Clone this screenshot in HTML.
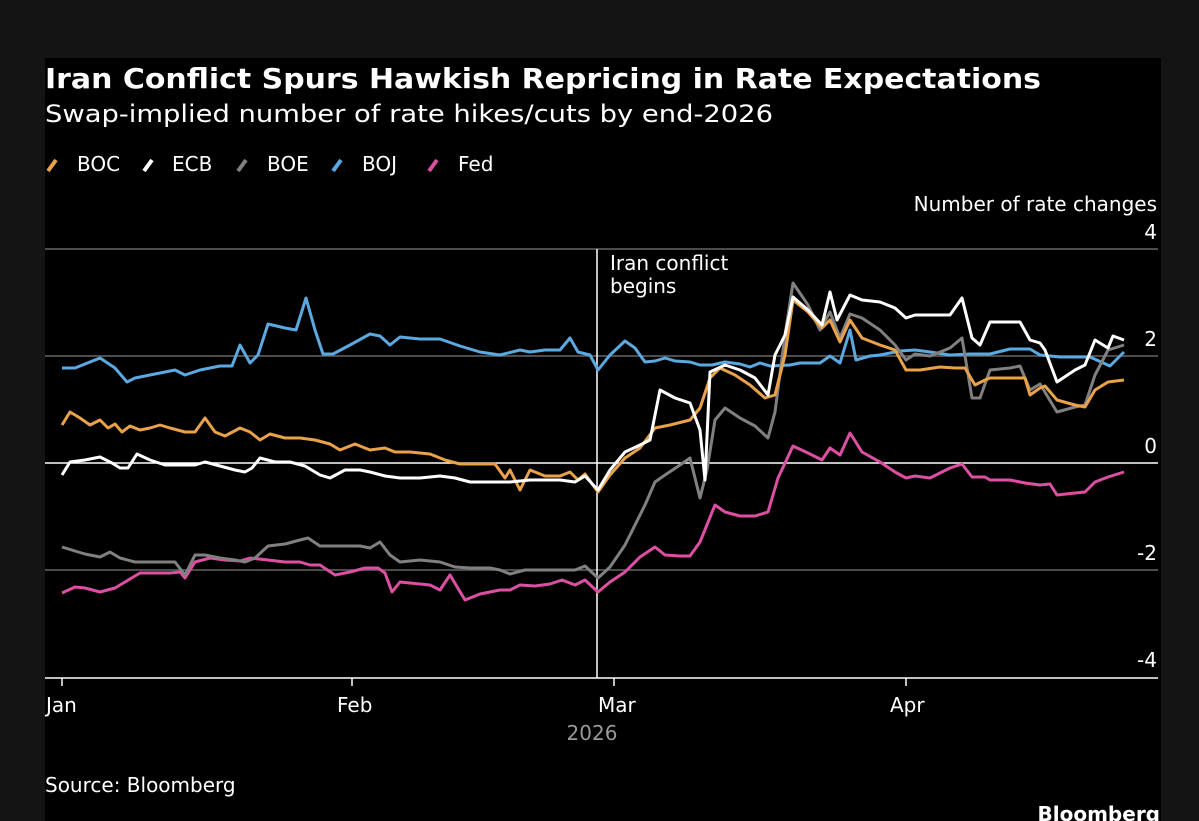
<!DOCTYPE html>
<html><head><meta charset="utf-8"><style>
html,body{margin:0;padding:0;background:#141414;}
svg{display:block;font-family:"DejaVu Sans","Liberation Sans",sans-serif;}
</style></head><body>
<svg width="1199" height="821" viewBox="0 0 1199 821" xmlns="http://www.w3.org/2000/svg">
<rect x="0" y="0" width="1199" height="821" fill="#141414"/>
<rect x="45" y="58" width="1116" height="763" fill="#000"/>
<text x="45" y="88" fill="#fff" font-size="28" font-weight="bold" textLength="996" lengthAdjust="spacingAndGlyphs">Iran Conflict Spurs Hawkish Repricing in Rate Expectations</text>
<text x="45" y="122" fill="#fff" font-size="24" textLength="728" lengthAdjust="spacingAndGlyphs">Swap-implied number of rate hikes/cuts by end-2026</text>
<g stroke-width="4" stroke-linecap="butt">
<line x1="48" y1="171" x2="56" y2="160" stroke="#e9a14a"/>
<line x1="144" y1="171" x2="152" y2="160" stroke="#fff"/>
<line x1="238" y1="171" x2="246" y2="160" stroke="#808080"/>
<line x1="333" y1="171" x2="341" y2="160" stroke="#5aa9e0"/>
<line x1="429" y1="171" x2="437" y2="160" stroke="#dc4fa2"/>
</g>
<g fill="#fff" font-size="20">
<text x="77" y="171">BOC</text><text x="172" y="171">ECB</text><text x="267" y="171">BOE</text><text x="362" y="171">BOJ</text><text x="458" y="171">Fed</text>
<text x="1157" y="211" text-anchor="end">Number of rate changes</text>
<text x="1157" y="239" text-anchor="end">4</text>
<text x="1157" y="346" text-anchor="end">2</text>
<text x="1157" y="453" text-anchor="end">0</text>
<text x="1157" y="560" text-anchor="end">-2</text>
<text x="1157" y="667" text-anchor="end">-4</text>
<text x="46" y="712">Jan</text><text x="337" y="712">Feb</text><text x="598" y="712">Mar</text><text x="890" y="712">Apr</text>
<text x="45" y="792">Source: Bloomberg</text>
<text x="610" y="270">Iran conflict</text><text x="610" y="293">begins</text>
</g>
<text x="592" y="740" fill="#999" font-size="20" text-anchor="middle">2026</text>
<text x="1160" y="821" fill="#fff" font-size="20" font-weight="bold" text-anchor="end">Bloomberg</text>
<g stroke="#666" stroke-width="1.5">
<line x1="45" y1="249" x2="1158" y2="249"/>
<line x1="45" y1="356" x2="1158" y2="356"/>
<line x1="45" y1="570" x2="1158" y2="570"/>
</g>
<line x1="45" y1="463" x2="1158" y2="463" stroke="#fff" stroke-width="1.5"/>
<line x1="45" y1="678" x2="1158" y2="678" stroke="#fff" stroke-width="1.5"/>
<g stroke="#fff" stroke-width="1.5"><line x1="62" y1="678" x2="62" y2="686"/><line x1="352" y1="678" x2="352" y2="686"/><line x1="614" y1="678" x2="614" y2="686"/><line x1="906" y1="678" x2="906" y2="686"/></g>
<line x1="597" y1="249" x2="597" y2="678" stroke="#fff" stroke-width="1.5"/>
<g fill="none" stroke-width="3" stroke-linejoin="round">
<polyline stroke="#5aa9e0" points="62,368 75,368 100,358 115,368 127,382 135,378 160,373 175,370 185,375 200,370 220,366 232,366 240,345 250,363 258,355 268,324 285,328 296,330 306,298 315,330 323,354 333,354 350,345 370,334 380,336 390,345 400,337 420,339 440,339 460,346 480,352 500,355 520,350 530,352 545,350 560,350 570,338 578,352 590,355 598,370 610,355 625,341 635,348 645,362 655,361 665,358 675,361 690,362 700,365 712,365 725,362 740,364 750,367 760,363 770,366 790,365 800,363 820,363 830,356 840,363 850,330 856,360 870,356 880,355 900,351 915,350 930,352 950,355 970,354 990,354 1010,349 1030,349 1040,355 1060,357 1090,357 1110,366 1124,352"/>
<polyline stroke="#dc4fa2" points="62,593 75,587 85,588 100,592 115,588 125,582 140,573 155,573 170,573 180,572 185,578 195,562 210,558 225,560 240,561 250,558 268,560 285,562 300,562 310,565 320,565 335,575 350,572 365,568 378,568 385,573 392,592 400,582 420,584 430,585 440,590 450,575 465,600 480,594 490,592 500,590 510,590 520,585 535,586 550,584 562,580 575,585 585,580 598,592 610,582 625,572 640,557 655,547 665,555 680,556 690,556 700,542 715,505 725,512 740,516 755,516 768,512 778,478 793,446 808,453 822,460 830,448 840,455 850,433 862,452 880,462 895,472 906,478 915,476 930,478 950,468 962,464 972,477 985,477 990,480 1010,480 1025,483 1040,485 1050,484 1057,495 1075,493 1085,492 1095,482 1108,477 1124,472"/>
<polyline stroke="#808080" points="62,547 75,551 85,554 100,557 110,552 120,558 135,562 150,562 165,562 175,562 185,575 195,555 205,555 220,558 235,560 245,562 255,558 268,546 285,544 300,540 308,538 320,546 340,546 360,546 370,548 380,542 390,555 400,562 420,560 440,562 455,567 470,568 490,568 500,570 510,574 525,570 540,570 560,570 575,570 585,566 598,578 610,567 625,545 635,525 645,505 655,482 665,475 680,465 690,458 700,498 707,470 715,420 725,408 740,418 755,426 768,438 775,412 785,335 793,283 808,305 820,330 830,312 840,338 850,314 862,318 880,330 895,345 906,360 915,354 930,356 950,348 962,338 972,398 980,398 990,370 1010,368 1020,366 1030,390 1040,384 1057,412 1075,407 1085,405 1095,375 1108,350 1124,345"/>
<polyline stroke="#e9a14a" points="62,425 70,412 80,418 90,425 100,420 108,428 115,424 122,432 130,426 140,430 150,428 160,425 170,428 185,432 195,432 205,418 215,432 225,436 240,428 250,432 260,440 270,434 285,438 300,438 315,440 330,444 340,450 355,444 370,450 385,448 395,452 410,452 430,454 445,460 460,464 480,464 495,464 505,478 510,470 520,490 530,470 545,476 560,476 570,472 578,480 585,474 598,492 610,475 625,458 640,448 655,428 670,425 690,420 700,408 710,378 720,368 735,375 750,385 765,398 775,395 785,355 793,300 808,312 822,328 830,320 840,342 850,320 862,338 880,345 895,350 906,370 920,370 940,367 955,368 965,368 975,385 985,380 990,378 1015,378 1025,378 1030,395 1040,388 1045,386 1057,400 1075,405 1085,407 1095,390 1108,382 1124,380"/>
<polyline stroke="#fff" points="62,475 70,462 85,460 100,457 112,463 120,468 128,468 137,454 150,460 165,465 180,465 195,465 205,462 220,466 235,470 245,472 252,468 260,458 275,462 290,462 305,466 320,475 330,478 345,470 360,470 370,472 385,476 400,478 420,478 440,476 455,478 470,482 490,482 510,482 530,480 545,480 560,480 575,482 585,476 598,490 610,470 625,452 640,445 650,440 660,390 675,398 690,403 700,430 705,480 710,372 725,365 740,370 755,378 768,395 775,355 785,335 793,297 808,310 822,325 830,292 837,320 850,295 862,300 880,302 895,308 906,318 915,315 930,315 950,315 962,298 972,338 980,345 990,322 1010,322 1020,322 1030,340 1040,343 1045,350 1057,382 1075,370 1085,365 1095,340 1108,348 1113,336 1124,340"/>
</g>
</svg>
</body></html>
